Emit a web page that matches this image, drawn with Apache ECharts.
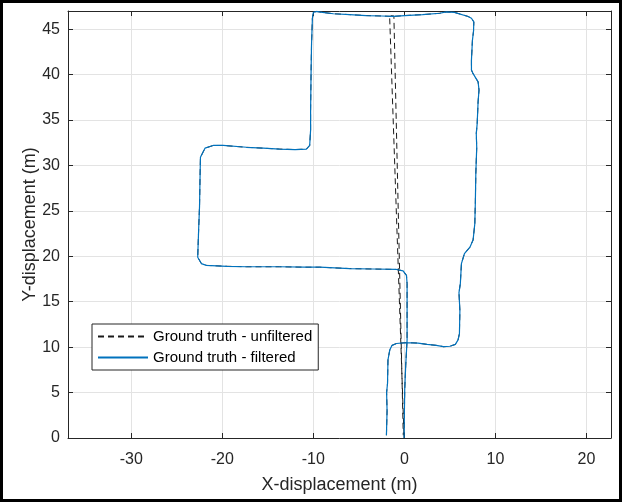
<!DOCTYPE html>
<html>
<head>
<meta charset="utf-8">
<script src="https://cdn.jsdelivr.net/npm/echarts@6/dist/echarts.min.js"></script>
<style>
html,body{margin:0;padding:0;background:#fff;}
#chart{width:622px;height:502px;}
</style>
</head>
<body>
<div id="chart"></div>
<script>
// ---- data (metres) ----
const filteredX = [-1.97,-1.9,-1.95,-1.85,-1.8,-1.6,-1.35,-0.87,0.23,1.5,2.5,3.5,4.3,5.0,5.6,5.9,6.05,6.1,6.0,6.15,6.27,6.6,7.2,7.55,7.74,7.8,7.85,7.95,7.9,8.0,8.1,8.2,8.1,7.55,7.37,7.37,7.48,7.6,7.63,7.37,7.0,5.5,4.6,3.9,2.0,0.04,-1.24,-2.5,-4.2,-6.0,-7.8,-9.0,-9.66,-10.0,-10.1,-10.2,-10.25,-10.3,-10.3,-10.4,-10.76,-12.0,-13.7,-15.5,-17.35,-19.9,-21.0,-21.9,-22.4,-22.45,-22.5,-22.6,-22.7,-22.3,-21.75,-19.5,-17.35,-13.7,-11.0,-9.3,-6.0,-3.5,-0.87,-0.14,0.23,0.3,0.3,0.3,0.15,0.04,0.0,-0.03];
const filteredY = [0.3,3.0,5.0,6.0,8.6,9.7,10.2,10.4,10.5,10.45,10.3,10.2,10.05,10.1,10.3,10.8,11.5,14.0,16.0,17.0,19.2,20.3,21.0,21.8,23.6,26.0,29.1,32.0,33.5,34.6,37.0,38.3,39.2,40.1,40.5,41.6,43.8,44.8,45.8,46.2,46.4,46.85,46.9,46.75,46.6,46.5,46.4,46.45,46.5,46.6,46.7,46.85,46.95,46.85,46.2,43.2,40.0,36.0,33.9,32.2,31.8,31.75,31.8,31.9,32.0,32.2,32.2,31.9,30.9,28.4,25.5,22.9,19.9,19.2,19.0,18.9,18.85,18.85,18.8,18.8,18.65,18.6,18.55,18.4,17.9,17.0,14.0,10.8,8.0,5.3,2.5,0.0];
// unfiltered ground truth: same track plus the spurious straight jumps
const jumpX = [-1.62,-1.15,-0.12];
const jumpY = [46.5,46.45,0.3];
const unfilteredX = filteredX.concat(jumpX);
const unfilteredY = filteredY.concat(jumpY);

const xTicks = [-30,-20,-10,0,10,20];
const yTicks = [0,5,10,15,20,25,30,35,40,45];
const xRange = [-36.95, 22.7];
const yRange = [0, 47];

const seriesNames = ['Ground truth - unfiltered','Ground truth - filtered'];
const xTitle = 'X-displacement (m)';
const yTitle = 'Y-displacement (m)';

function zip(xs, ys){ return xs.map((x,i)=>[x, ys[i]]); }

const FONT = '"Liberation Sans", Arial, Helvetica, sans-serif';
const AX = '#262626';
const GRID = '#e3e3e3';
const DASH_COLOR = '#1a1a1a';
const BLUE = '#0072BD';

const chart = echarts.init(document.getElementById('chart'), null, {renderer:'canvas'});

function xAxisCfg(pos, main){
  return {
    type:'value', position:pos, min:xRange[0], max:xRange[1],
    axisLine:{show:true, onZero:false, lineStyle:{color:AX, width:1}},
    axisTick:{show:true, inside:true, length:5, customValues:xTicks, lineStyle:{color:AX}},
    axisLabel:{show:main, customValues:xTicks, margin:14, color:AX, fontSize:16, fontFamily:FONT},
    splitLine:{show:main, lineStyle:{color:GRID, width:1}},
    name: main ? xTitle : '', nameLocation:'middle', nameGap:38, nameMoveOverlap:false,
    nameTextStyle:{color:AX, fontSize:18, fontFamily:FONT}
  };
}
function yAxisCfg(pos, main){
  return {
    type:'value', position:pos, min:yRange[0], max:yRange[1],
    axisLine:{show:true, onZero:false, lineStyle:{color:AX, width:1}},
    axisTick:{show:true, inside:true, length:5, customValues:yTicks, lineStyle:{color:AX}},
    axisLabel:{show:main, customValues:yTicks, margin:8, color:AX, fontSize:16, fontFamily:FONT},
    splitLine:{show:main, lineStyle:{color:GRID, width:1}},
    name: main ? yTitle : '', nameLocation:'middle', nameGap:29, nameRotate:90, nameMoveOverlap:false,
    nameTextStyle:{color:AX, fontSize:18, fontFamily:FONT}
  };
}

chart.setOption({
  animation:false,
  backgroundColor:'#fff',
  color:[DASH_COLOR, BLUE],
  grid:{left:68, top:11, width:543, height:427, containLabel:false},
  xAxis:[xAxisCfg('bottom', true), xAxisCfg('top', false)],
  yAxis:[yAxisCfg('left', true), yAxisCfg('right', false)],
  legend:{
    orient:'vertical', left:92, top:324,
    padding:[5,6,5,5], itemGap:6, itemWidth:50, itemHeight:14,
    borderColor:AX, borderWidth:1, backgroundColor:'#fff',
    itemStyle:{opacity:0},
    textStyle:{fontSize:15, color:'#000', fontFamily:FONT},
    data:seriesNames
  },
  series:[
    {
      name:seriesNames[0], type:'line', data:zip(unfilteredX, unfilteredY),
      showSymbol:false, symbol:'none', z:2,
      itemStyle:{color:DASH_COLOR},
      lineStyle:{color:DASH_COLOR, width:1, type:[6,4]}
    },
    {
      name:seriesNames[1], type:'line', data:zip(filteredX, filteredY),
      showSymbol:false, symbol:'none', z:3,
      itemStyle:{color:BLUE},
      lineStyle:{color:BLUE, width:1.2}
    }
  ],
  graphic:[{
    type:'rect', silent:true, z:100,
    shape:{x:1.5, y:1.5, width:619, height:499},
    style:{fill:null, stroke:'#000', lineWidth:3}
  }]
});
</script>
</body>
</html>
